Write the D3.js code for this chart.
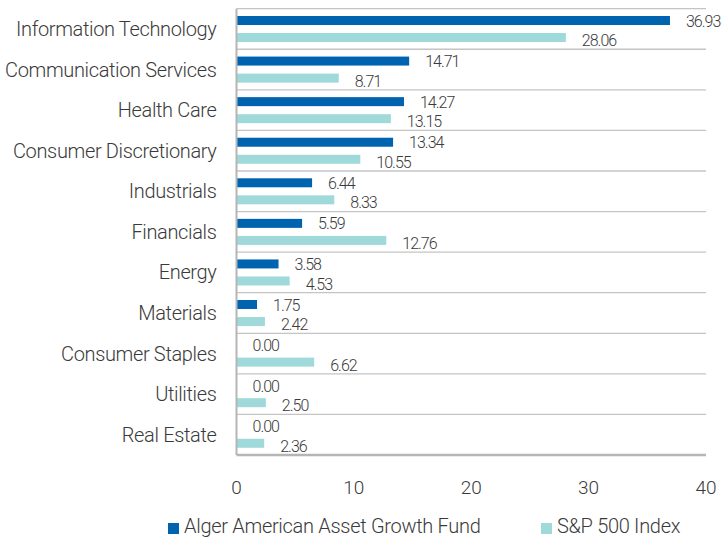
<!DOCTYPE html>
<html>
<head>
<meta charset="utf-8">
<script src="https://cdn.jsdelivr.net/npm/d3@7"></script>
<style>
  body { margin: 0; background: #fff; }
  text { font-family: Roboto, "Open Sans", sans-serif; font-weight: 300; fill: #3a3a3a; }
</style>
</head>
<body>
<svg width="722" height="538"></svg>
<script>
var sectors = ["Information Technology", "Communication Services", "Health Care",
  "Consumer Discretionary", "Industrials", "Financials", "Energy", "Materials",
  "Consumer Staples", "Utilities", "Real Estate"];
var fundValues = [36.93, 14.71, 14.27, 13.34, 6.44, 5.59, 3.58, 1.75, 0.00, 0.00, 0.00];
var indexValues = [28.06, 8.71, 13.15, 10.55, 8.33, 12.76, 4.53, 2.42, 6.62, 2.50, 2.36];
var xTicks = [0, 10, 20, 30, 40];
var seriesNames = ["Alger American Asset Growth Fund", "S&P 500 Index"];
var colors = ["#0063af", "#9fd9da"];

var svg = d3.select("svg"),
  margin = { top: 8.7, right: 16, bottom: 83, left: 236.5 },
  width = +svg.attr("width") - margin.left - margin.right,
  height = +svg.attr("height") - margin.top - margin.bottom,
  g = svg.append("g")
    .attr("transform", "translate(" + margin.left + "," + margin.top + ")");

var x = d3.scaleLinear().domain([0, 40]).range([0, width]);
var y = d3.scaleBand().domain(sectors).range([0, height]).padding(0);
var bw = y.bandwidth();

// separators between categories (plus the top edge)
var seps = [0].concat(sectors.slice(0, -1).map(function(d) { return y(d) + bw; }));
g.selectAll(".sep")
  .data(seps)
  .enter()
  .append("line")
  .attr("x1", 0)
  .attr("x2", width)
  .attr("y1", function(d) { return d; })
  .attr("y2", function(d) { return d; })
  .attr("stroke", "#c4c4c4")
  .attr("stroke-width", 1.3);

var data = sectors.map(function(s, i) {
  return { sector: s, fund: fundValues[i], index: indexValues[i] };
});

var barH = 9;
var offsets = [bw * 0.18, bw * 0.6];

[["fund", 0], ["index", 1]].forEach(function(p) {
  var key = p[0], k = p[1];
  g.selectAll(".bar-" + key)
    .data(data)
    .enter()
    .append("rect")
    .attr("class", "bar-" + key)
    .attr("x", 0)
    .attr("y", function(d) { return y(d.sector) + offsets[k]; })
    .attr("width", function(d) { return x(d[key]); })
    .attr("height", barH)
    .attr("fill", colors[k]);

  g.selectAll(".lab-" + key)
    .data(data)
    .enter()
    .append("text")
    .attr("x", function(d) { return x(d[key]) + 16; })
    .attr("y", function(d) { return y(d.sector) + offsets[k] + barH / 2 + (k ? 3 : 0.5); })
    .attr("dy", "0.35em")
    .style("font-size", "16px")
    .style("letter-spacing", "-1px")
    .text(function(d) { return d[key].toFixed(2); });
});

// axes lines
g.append("line")
  .attr("x1", 0).attr("x2", 0).attr("y1", 0).attr("y2", height)
  .attr("stroke", "#b5b5b5").attr("stroke-width", 2);
g.append("line")
  .attr("x1", 0).attr("x2", width).attr("y1", height).attr("y2", height)
  .attr("stroke", "#b5b5b5").attr("stroke-width", 2.5);

// category labels
g.selectAll(".cat")
  .data(sectors)
  .enter()
  .append("text")
  .attr("x", -20)
  .attr("y", function(d) { return y(d) + bw / 2; })
  .attr("dy", "0.35em")
  .attr("text-anchor", "end")
  .style("font-size", "20px")
  .style("letter-spacing", "-0.35px")
  .text(function(d) { return d; });

// x tick labels
g.selectAll(".tick-lab")
  .data(xTicks)
  .enter()
  .append("text")
  .attr("x", function(d) { return x(d); })
  .attr("y", height + 32)
  .attr("dy", "0.35em")
  .attr("text-anchor", "middle")
  .style("font-size", "19px")
  .text(function(d) { return d; });

// legend
var legX = [168, 541];
seriesNames.forEach(function(name, i) {
  svg.append("rect")
    .attr("x", legX[i]).attr("y", 523)
    .attr("width", 11).attr("height", 11)
    .attr("fill", colors[i]);
  svg.append("text")
    .attr("x", legX[i] + 16).attr("y", 533)
    .style("font-size", "20px")
    .style("letter-spacing", "-0.3px")
    .text(name);
});
</script>
</body>
</html>
